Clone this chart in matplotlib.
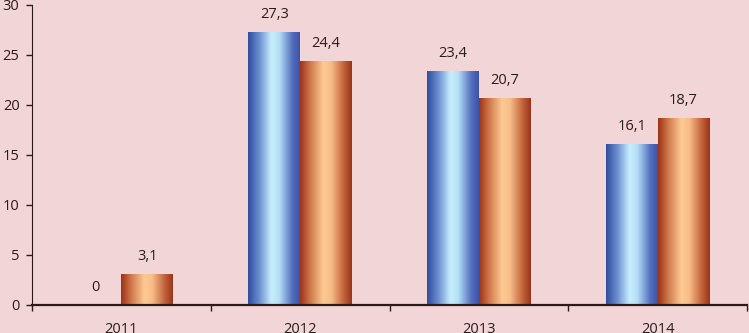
import numpy as np
import matplotlib.pyplot as plt
from matplotlib.colors import LinearSegmentedColormap

years = ["2011", "2012", "2013", "2014"]
series_a = [0, 27.3, 23.4, 16.1]
series_b = [3.1, 24.4, 20.7, 18.7]

bg = "#f2d5d6"
blue_cm = LinearSegmentedColormap.from_list(
    "b", [(0, "#2f4c9e"), (0.22, "#6d8fd0"), (0.45, "#c6eefc"), (0.6, "#b6e0f8"),
          (0.85, "#5670c0"), (1, "#3a52a8")])
orng_cm = LinearSegmentedColormap.from_list(
    "o", [(0, "#9c3216"), (0.2, "#d07a4c"), (0.45, "#fdca94"), (0.6, "#f8bd88"),
          (0.85, "#c0603a"), (1, "#9a3418")])

fig = plt.figure(figsize=(7.49, 3.33), dpi=100, facecolor=bg)
ax = fig.add_axes([32 / 749, 28 / 333, 715 / 749, 300 / 333])
ax.set_facecolor(bg)

x = np.arange(len(years))
w = 0.29
bars_a = ax.bar(x - w / 2, series_a, w, color="none")
bars_b = ax.bar(x + w / 2, series_b, w, color="none")

grad = np.linspace(0, 1, 256).reshape(1, -1)
for bars, cm in ((bars_a, blue_cm), (bars_b, orng_cm)):
    for b in bars:
        h = b.get_height()
        if h <= 0:
            continue
        x0 = b.get_x()
        ax.imshow(grad, cmap=cm, extent=(x0, x0 + b.get_width(), 0, h),
                  aspect="auto", interpolation="bicubic", zorder=2)

lab = dict(fontsize=10.5, family=["Open Sans", "DejaVu Sans"], color="#2a1c1c")
for bars, vals in ((bars_a, series_a), (bars_b, series_b)):
    for b, v in zip(bars, vals):
        ax.annotate(f"{v:g}".replace(".", ","),
                    (b.get_x() + b.get_width() / 2, v),
                    xytext=(0, 7), textcoords="offset points",
                    ha="center", va="bottom", **lab)

ax.set_xlim(-0.5, len(years) - 0.5)
ax.set_ylim(0, 30)
ax.set_yticks(range(0, 31, 5))
ax.set_yticklabels([str(t) for t in range(0, 31, 5)], **lab)
ax.set_xticks(x)
ax.set_xticklabels(years, **lab)
ax.set_xticks(np.arange(-0.5, len(years)), minor=True)
ax.tick_params(axis="x", which="major", length=0, pad=12)
ax.tick_params(axis="x", which="minor", length=4, width=1, color="#2b1a1a")
ax.tick_params(axis="y", length=4, width=1, color="#2b1a1a", pad=5)

for s in ("top", "right"):
    ax.spines[s].set_visible(False)
ax.spines["left"].set_color("#2b1a1a")
ax.spines["bottom"].set_color("#2b1a1a")
ax.spines["bottom"].set_linewidth(1.6)

fig.savefig("out.png", dpi=100, facecolor=bg)
